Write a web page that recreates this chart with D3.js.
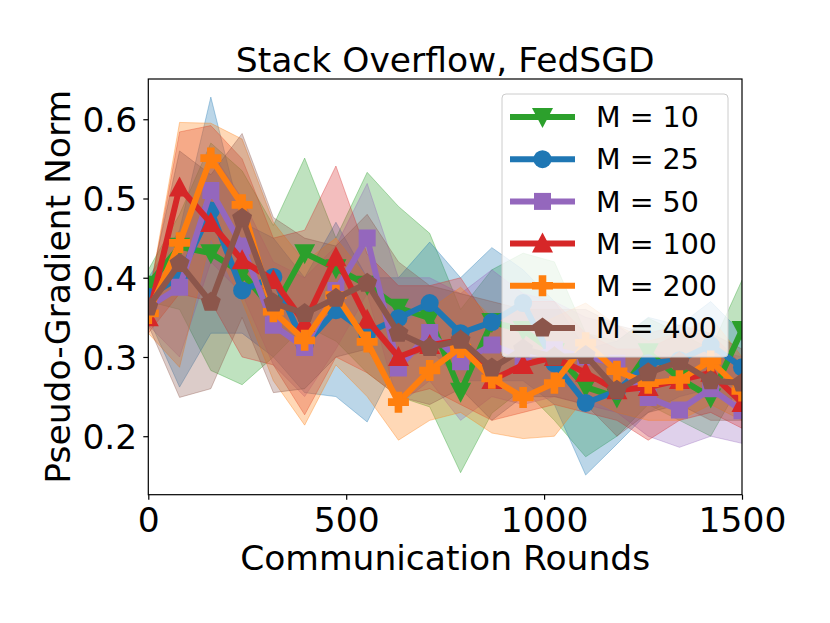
<!DOCTYPE html>
<html><head><meta charset="utf-8">
<script src="https://cdn.jsdelivr.net/npm/d3@7"></script>
<style>body{margin:0;background:#fff}svg{display:block}text{font-family:"DejaVu Sans",sans-serif;fill:#000}</style>
</head><body><svg id="c" width="830" height="623"></svg>
<script>
const rounds = [0,79,158,237,316,395,474,553,632,711,789,868,947,1026,1105,1184,1263,1342,1421,1500];
const labels = ["M = 10","M = 25","M = 50","M = 100","M = 200","M = 400"];
const colors = ["#2ca02c","#1f77b4","#9467bd","#d62728","#ff7f0e","#8c564b"];
const markers = ["triDown","circle","square","triUp","plus","pentagon"];

const m10   = [0.391,0.439,0.431,0.406,0.359,0.431,0.412,0.391,0.362,0.349,0.256,0.344,0.334,0.306,0.262,0.249,0.306,0.273,0.249,0.334];
const m10Lo = [0.37,0.36,0.283,0.265,0.30,0.34,0.32,0.28,0.25,0.237,0.154,0.229,0.26,0.22,0.174,0.20,0.24,0.22,0.20,0.27];
const m10Hi = [0.41,0.48,0.57,0.535,0.466,0.551,0.45,0.533,0.49,0.456,0.36,0.41,0.431,0.42,0.33,0.32,0.349,0.33,0.31,0.397];

const m25   = [0.376,0.401,0.485,0.384,0.401,0.315,0.359,0.330,0.349,0.368,0.330,0.344,0.368,0.292,0.242,0.257,0.292,0.296,0.315,0.287];
const m25Lo = [0.35,0.262,0.33,0.33,0.30,0.255,0.25,0.218,0.296,0.31,0.27,0.27,0.27,0.24,0.151,0.19,0.23,0.25,0.26,0.24];
const m25Hi = [0.40,0.46,0.628,0.47,0.45,0.40,0.47,0.40,0.40,0.445,0.40,0.438,0.41,0.37,0.31,0.32,0.35,0.34,0.37,0.33];

const m50   = [0.363,0.388,0.510,0.44,0.34,0.312,0.384,0.450,0.286,0.331,0.294,0.315,0.300,0.309,0.30,0.292,0.249,0.233,0.26,0.232];
const m50Lo = [0.34,0.30,0.42,0.38,0.29,0.25,0.31,0.38,0.24,0.27,0.22,0.25,0.24,0.25,0.24,0.23,0.20,0.186,0.20,0.191];
const m50Hi = [0.38,0.43,0.56,0.50,0.42,0.40,0.44,0.519,0.40,0.40,0.38,0.41,0.38,0.37,0.35,0.34,0.31,0.30,0.31,0.30];

const m100   = [0.350,0.514,0.469,0.422,0.397,0.343,0.426,0.347,0.300,0.315,0.321,0.271,0.29,0.30,0.280,0.258,0.262,0.271,0.280,0.242];
const m100Lo = [0.33,0.38,0.37,0.30,0.29,0.227,0.30,0.28,0.25,0.26,0.24,0.22,0.23,0.24,0.23,0.22,0.195,0.22,0.23,0.21];
const m100Hi = [0.37,0.584,0.592,0.55,0.45,0.46,0.541,0.43,0.39,0.39,0.40,0.34,0.37,0.37,0.33,0.31,0.31,0.33,0.33,0.29];

const m200   = [0.355,0.444,0.551,0.492,0.357,0.321,0.378,0.319,0.243,0.283,0.312,0.273,0.249,0.267,0.318,0.282,0.267,0.271,0.295,0.257];
const m200Lo = [0.33,0.287,0.45,0.37,0.27,0.214,0.29,0.25,0.195,0.22,0.23,0.204,0.197,0.2,0.25,0.23,0.22,0.22,0.24,0.22];
const m200Hi = [0.37,0.596,0.595,0.575,0.47,0.42,0.45,0.40,0.34,0.36,0.388,0.35,0.33,0.35,0.368,0.34,0.32,0.33,0.35,0.30];

const m400   = [0.363,0.418,0.369,0.475,0.368,0.355,0.374,0.393,0.330,0.312,0.321,0.286,0.310,0.300,0.302,0.258,0.280,0.294,0.270,0.267];
const m400Lo = [0.34,0.249,0.26,0.35,0.255,0.26,0.30,0.31,0.25,0.24,0.26,0.22,0.25,0.25,0.24,0.2,0.23,0.24,0.22,0.22];
const m400Hi = [0.38,0.56,0.53,0.582,0.476,0.45,0.44,0.48,0.42,0.39,0.38,0.37,0.36,0.36,0.36,0.34,0.33,0.34,0.33,0.31];

const xTicks = [0,500,1000,1500];
const yTicks = [0.2,0.3,0.4,0.5,0.6];

const series = [
  {mean:m10, lo:m10Lo, hi:m10Hi},
  {mean:m25, lo:m25Lo, hi:m25Hi},
  {mean:m50, lo:m50Lo, hi:m50Hi},
  {mean:m100, lo:m100Lo, hi:m100Hi},
  {mean:m200, lo:m200Lo, hi:m200Hi},
  {mean:m400, lo:m400Lo, hi:m400Hi}
].map((s,i)=>Object.assign(s,{label:labels[i],color:colors[i],marker:markers[i]}));

const L=148.3, R=742, T=79, B=494.7;
const FS = 34.5;
const x = d3.scaleLinear().domain([0,1500]).range([L,R]);
const y = d3.scaleLinear().domain([0.1262,0.6508]).range([B,T]);

const svg = d3.select("#c");
svg.append("defs").append("clipPath").attr("id","clip")
  .append("rect").attr("x",L).attr("y",T).attr("width",R-L).attr("height",B-T);

function markerPath(type){
  const p = d3.path();
  if(type==="circle"){ p.arc(0,0,9,0,2*Math.PI); p.closePath(); }
  else if(type==="square"){ p.rect(-8.5,-8.5,17,17); }
  else if(type==="triDown"){ p.moveTo(-10.5,-9); p.lineTo(10.5,-9); p.lineTo(0,11); p.closePath(); }
  else if(type==="triUp"){ p.moveTo(-10.5,9); p.lineTo(10.5,9); p.lineTo(0,-11); p.closePath(); }
  else if(type==="plus"){ const w=3.8,a=10.5;
    p.moveTo(-w,-a);p.lineTo(w,-a);p.lineTo(w,-w);p.lineTo(a,-w);p.lineTo(a,w);p.lineTo(w,w);
    p.lineTo(w,a);p.lineTo(-w,a);p.lineTo(-w,w);p.lineTo(-a,w);p.lineTo(-a,-w);p.lineTo(-w,-w);p.closePath(); }
  else if(type==="pentagon"){ const r=10.5;
    for(let k=0;k<5;k++){ const ang=-Math.PI/2+k*2*Math.PI/5; const px=r*Math.cos(ang), py=r*Math.sin(ang);
      if(k===0)p.moveTo(px,py); else p.lineTo(px,py);} p.closePath(); }
  return p.toString();
}

const plot = svg.append("g").attr("clip-path","url(#clip)");
series.forEach(s=>{
  const area = d3.area().x((d,i)=>x(rounds[i])).y0((d,i)=>y(s.lo[i])).y1((d,i)=>y(s.hi[i]));
  plot.append("path").attr("d",area(s.mean)).attr("fill",s.color).attr("fill-opacity",0.3)
    .attr("stroke",s.color).attr("stroke-opacity",0.35).attr("stroke-width",1);
});
series.forEach(s=>{
  const line = d3.line().x((d,i)=>x(rounds[i])).y(d=>y(d));
  plot.append("path").attr("d",line(s.mean)).attr("fill","none").attr("stroke",s.color)
    .attr("stroke-width",6).attr("stroke-linejoin","round");
  plot.selectAll(null).data(s.mean).enter().append("path")
    .attr("d",markerPath(s.marker)).attr("fill",s.color)
    .attr("transform",(d,i)=>`translate(${x(rounds[i])},${y(d)})`);
});

const xAxis = d3.axisBottom(x).tickValues(xTicks).tickSize(5).tickPadding(6).tickFormat(d3.format("d"));
const yAxis = d3.axisLeft(y).tickValues(yTicks).tickSize(5).tickPadding(6).tickFormat(d3.format(".1f"));
const gx = svg.append("g").attr("transform",`translate(0,${B})`).call(xAxis);
const gy = svg.append("g").attr("transform",`translate(${L},0)`).call(yAxis);
[gx,gy].forEach(g=>{
  g.select(".domain").remove();
  g.selectAll("line").attr("stroke","#000").attr("stroke-width",1.2);
  g.selectAll("text").attr("font-size",FS).attr("font-family","DejaVu Sans").attr("fill","#000");
});
gx.selectAll("text").attr("dy",null).attr("y",null).attr("transform","translate(0,37)");
gy.selectAll("text").attr("dy","0.36em");

svg.append("rect").attr("x",L).attr("y",T).attr("width",R-L).attr("height",B-T)
  .attr("fill","none").attr("stroke","#000").attr("stroke-width",1.2);

svg.append("text").attr("x",(L+R)/2).attr("y",72).attr("text-anchor","middle").attr("font-size",FS)
  .text("Stack Overflow, FedSGD");
svg.append("text").attr("x",(L+R)/2).attr("y",570).attr("text-anchor","middle").attr("font-size",FS)
  .text("Communication Rounds");
svg.append("text").attr("transform",`translate(70,${(T+B)/2}) rotate(-90)`).attr("text-anchor","middle")
  .attr("font-size",FS).text("Pseudo-Gradient Norm");

const lg = svg.append("g");
lg.append("rect").attr("x",502).attr("y",94).attr("width",226).attr("height",263).attr("rx",4)
  .attr("fill","#fff").attr("fill-opacity",0.8).attr("stroke","#cccccc").attr("stroke-width",1);
const rowY = d3.scaleLinear().domain([0,5]).range([117,328]);
series.forEach((s,i)=>{
  const yy = rowY(i);
  lg.append("line").attr("x1",510).attr("x2",575).attr("y1",yy).attr("y2",yy)
    .attr("stroke",s.color).attr("stroke-width",6);
  lg.append("path").attr("d",markerPath(s.marker)).attr("fill",s.color)
    .attr("transform",`translate(542.5,${yy})`);
  lg.append("text").attr("x",596).attr("y",yy).attr("dy","0.36em").attr("font-size",28.5).text(s.label);
});
</script></body></html>
